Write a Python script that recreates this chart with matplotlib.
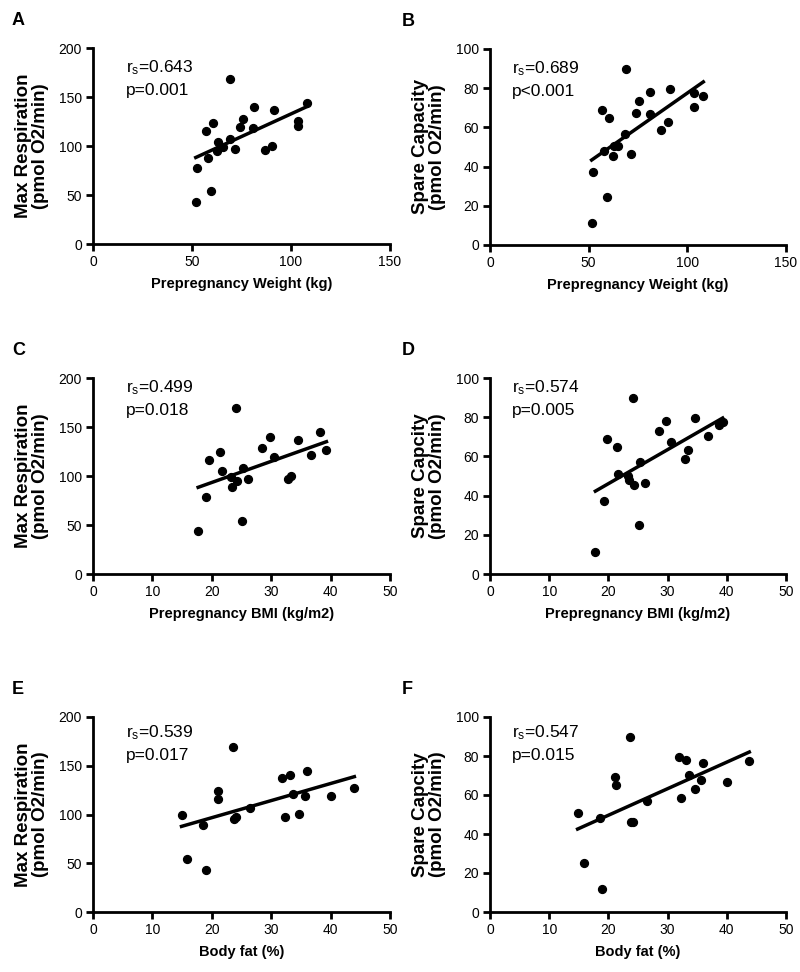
import numpy as np
import matplotlib
matplotlib.use("Agg")
import matplotlib.pyplot as plt

plt.rcParams['font.family'] = ['Liberation Sans', 'DejaVu Sans']
plt.rcParams['mathtext.default'] = 'regular'

# data
wt_A = [69.2, 81.3, 91.4, 107.9, 75.8, 60.4, 57.2, 74.2, 80.9, 103.4, 103.4, 63.0, 69.2, 65.5, 62.5, 71.5, 58.1, 86.9, 90.4, 52.5, 59.6, 51.9]
mr_A = [168, 140, 137, 144, 128, 123, 115, 119, 118, 126, 120, 104, 107, 99, 95, 97, 88, 96, 100, 78, 54, 43]

wt_B = [68.9, 56.8, 60.5, 81.1, 91.2, 75.3, 73.8, 80.9, 103.2, 103.2, 68.6, 64.9, 62.7, 57.9, 62.3, 71.3, 86.8, 90.2, 52.4, 59.3, 51.5, 108.1]
sc_B = [89.6, 68.9, 64.6, 77.9, 79.4, 73.3, 67.5, 66.7, 77.4, 70.2, 56.8, 50.7, 50.7, 48.0, 45.6, 46.3, 58.5, 62.9, 37.4, 24.7, 11.4, 76.0]

bmi_C = [24.1, 29.8, 34.5, 28.5, 30.4, 19.6, 21.4, 21.7, 25.2, 23.3, 24.2, 26.1, 23.4, 32.8, 33.3, 19.1, 25.0, 17.7, 38.2, 39.3, 36.7]
mr_C = [169, 140, 137, 129, 119, 116, 124, 105, 108, 99, 95, 97, 89, 97, 100, 79, 54, 44, 145, 127, 121]

bmi_D = [24.2, 19.7, 21.4, 28.6, 29.8, 34.6, 30.6, 33.5, 32.9, 25.3, 21.7, 23.3, 23.4, 24.3, 26.1, 19.2, 25.1, 17.8, 36.9, 38.6, 39.3]
sc_D = [89.9, 69.1, 64.9, 73.2, 78.0, 79.5, 67.2, 63.1, 58.7, 57.0, 50.9, 50.0, 48.2, 45.6, 46.3, 37.4, 24.9, 11.4, 70.3, 75.9, 77.6]

fat_E = [23.5, 31.9, 33.1, 36.0, 21.1, 21.0, 33.6, 35.7, 26.4, 14.9, 18.6, 23.7, 24.1, 32.3, 34.7, 15.9, 19.0, 40.0, 44.0]
mr_E = [169, 137, 141, 145, 124, 116, 121, 119, 107, 99, 89, 95, 97, 97, 101, 54, 43, 119, 127]

fat_F = [23.6, 32.0, 33.1, 33.6, 34.7, 21.1, 21.2, 32.3, 26.5, 14.8, 18.5, 23.9, 24.2, 15.9, 19.0, 36.0, 35.7, 40.1, 43.8]
sc_F = [89.9, 79.5, 78.0, 70.3, 63.1, 69.1, 64.9, 58.7, 57.0, 50.9, 48.3, 46.1, 46.3, 24.9, 11.9, 76.3, 67.7, 66.9, 77.2]

letters = ['A', 'B', 'C', 'D', 'E', 'F']
xdata = [wt_A, wt_B, bmi_C, bmi_D, fat_E, fat_F]
ydata = [mr_A, sc_B, mr_C, sc_D, mr_E, sc_F]
ylabels = ['Max Respiration\n(pmol O2/min)', 'Spare Capacity\n(pmol O2/min)',
           'Max Respiration\n(pmol O2/min)', 'Spare Capcity\n(pmol O2/min)',
           'Max Respiration\n(pmol O2/min)', 'Spare Capcity\n(pmol O2/min)']
xlabels = ['Prepregnancy Weight (kg)', 'Prepregnancy Weight (kg)',
           'Prepregnancy BMI (kg/m2)', 'Prepregnancy BMI (kg/m2)',
           'Body fat (%)', 'Body fat (%)']
rs_vals = ['0.643', '0.689', '0.499', '0.574', '0.539', '0.547']
p_vals = ['p=0.001', 'p<0.001', 'p=0.018', 'p=0.005', 'p=0.017', 'p=0.015']
xmax = [150, 150, 50, 50, 50, 50]
xstep = [50, 50, 10, 10, 10, 10]
ymax = [200, 100, 200, 100, 200, 100]
ystep = [50, 20, 50, 20, 50, 20]

W, H = 800, 972
fig = plt.figure(figsize=(W / 100, H / 100), dpi=100)

# axes boxes in pixels: left, top, right, bottom
boxes = [(93, 48, 390, 244), (490, 49, 786, 245),
         (93, 378, 390, 574), (490, 378, 786, 574),
         (93, 717, 390, 912), (490, 717, 786, 912)]
text_x = [0.11, 0.073, 0.11, 0.073, 0.11, 0.073]
text_y = [0.95, 0.95, 1.0, 1.0, 0.97, 0.97]

for i in range(6):
    l, t, r, b = boxes[i]
    ax = fig.add_axes([l / W, 1 - b / H, (r - l) / W, (b - t) / H])
    x = np.array(xdata[i])
    y = np.array(ydata[i])
    ax.scatter(x, y, s=32, color='black', zorder=3, clip_on=False)
    k, c = np.polyfit(x, y, 1)
    xs = np.array([x.min(), x.max()])
    ax.plot(xs, k * xs + c, color='black', lw=2.5)

    ax.set_xlim(0, xmax[i])
    ax.set_ylim(0, ymax[i])
    ax.set_xticks(np.arange(0, xmax[i] + 1, xstep[i]))
    ax.set_yticks(np.arange(0, ymax[i] + 1, ystep[i]))
    for s in ['top', 'right']:
        ax.spines[s].set_visible(False)
    for s in ['left', 'bottom']:
        ax.spines[s].set_linewidth(2)
    ax.tick_params(width=2, length=5, labelsize=10, direction='out', pad=3)
    ax.set_xlabel(xlabels[i], fontsize=10.5, fontweight='bold', labelpad=6)
    ax.set_ylabel(ylabels[i], fontsize=13.5, fontweight='bold', labelpad=7,
                  linespacing=1.0)

    ax.text(text_x[i], text_y[i], 'r$_{s}$=' + rs_vals[i] + '\n' + p_vals[i],
            transform=ax.transAxes, fontsize=12.5, va='top', ha='left',
            linespacing=1.5)

    fig.text((l - 81 if i % 2 == 0 else l - 88) / W, 1 - (t - 36) / H, letters[i],
             fontsize=13, fontweight='bold', va='top', ha='left')

fig.savefig('out.png', dpi=100)
